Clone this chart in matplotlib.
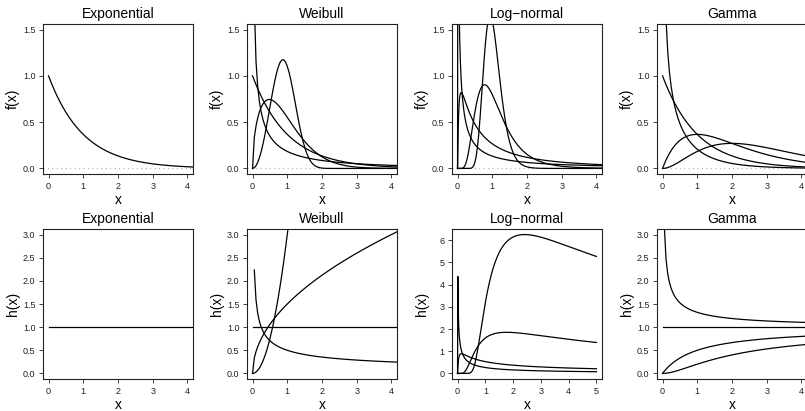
import math
import numpy as np
import matplotlib
matplotlib.use("Agg")
import matplotlib.pyplot as plt

plt.rcParams['font.family'] = ['Liberation Sans', 'DejaVu Sans']

# panel titles and y labels
titles = ['Exponential', 'Weibull', 'Log\u2212normal', 'Gamma']
row_labels = ['f(x)', 'h(x)']

# distribution parameters
exp_rate = [1.0]
weibull_shape = [0.5, 1.0, 1.5, 3.0]
weibull_scale = 1.0
lnorm_meanlog = 0.0
lnorm_sdlog = [0.25, 0.5, 1.5, 3.0]
gamma_shape = [0.5, 1.0, 2.0, 3.0]
gamma_rate = 1.0

# x grids (as in the original curve() calls)
x_coarse = np.arange(0, 101) * 0.05
x_fine = np.arange(0, 501) * 0.01

# axis limits
xlims = {'top': [(0, 4)] * 4, 'bottom': [(0, 4), (0, 4), (0, 5), (0, 4)]}
ylims = {'top': [(0, 1.5)] * 4, 'bottom': [(0, 3), (0, 3), None, (0, 3)]}
xticks = {'top': [[0, 1, 2, 3, 4]] * 4,
          'bottom': [[0, 1, 2, 3, 4], [0, 1, 2, 3, 4], [0, 1, 2, 3, 4, 5], [0, 1, 2, 3, 4]]}
yticks_half = [0.0, 0.5, 1.0, 1.5, 2.0, 2.5, 3.0]
yticks_int = [0, 1, 2, 3, 4, 5, 6]


def clean(y):
    y = np.asarray(y, dtype=float)
    y[~np.isfinite(y)] = np.nan
    return y


def exp_pdf(x, r):
    return r * np.exp(-r * x)


def exp_haz(x, r):
    return np.full_like(x, r)


def weib_pdf(x, k, lam):
    with np.errstate(divide='ignore', invalid='ignore'):
        z = x / lam
        return clean((k / lam) * z ** (k - 1) * np.exp(-z ** k))


def weib_haz(x, k, lam):
    with np.errstate(divide='ignore', invalid='ignore'):
        return clean((k / lam) * (x / lam) ** (k - 1))


def lnorm_pdf(x, mu, s):
    out = np.zeros_like(x)
    p = x > 0
    lx = np.log(x[p])
    out[p] = np.exp(-(lx - mu) ** 2 / (2 * s * s)) / (x[p] * s * math.sqrt(2 * math.pi))
    return out


def lnorm_surv(x, mu, s):
    out = np.ones_like(x)
    p = x > 0
    z = (np.log(x[p]) - mu) / (s * math.sqrt(2))
    out[p] = [0.5 * math.erfc(v) for v in z]
    return out


def lnorm_haz(x, mu, s):
    return lnorm_pdf(x, mu, s) / lnorm_surv(x, mu, s)


def gamma_pdf(x, a, b):
    with np.errstate(divide='ignore', invalid='ignore'):
        return clean(b ** a * x ** (a - 1) * np.exp(-b * x) / math.gamma(a))


def gamma_cdf(x, a, b):
    # series for the regularized lower incomplete gamma
    t = b * x
    term = np.ones_like(t)
    total = np.ones_like(t)
    for n in range(1, 250):
        term = term * t / (a + n)
        total = total + term
    return t ** a * np.exp(-t) / math.gamma(a + 1) * total


def gamma_haz(x, a, b):
    with np.errstate(divide='ignore', invalid='ignore'):
        return clean(gamma_pdf(x, a, b) / (1 - gamma_cdf(x, a, b)))


top_curves = [
    [(x_coarse, exp_pdf(x_coarse, r)) for r in exp_rate],
    [(x_coarse, weib_pdf(x_coarse, k, weibull_scale)) for k in weibull_shape],
    [(x_fine, lnorm_pdf(x_fine, lnorm_meanlog, s)) for s in lnorm_sdlog],
    [(x_coarse, gamma_pdf(x_coarse, a, gamma_rate)) for a in gamma_shape],
]
bottom_curves = [
    [(x_coarse, exp_haz(x_coarse, r)) for r in exp_rate],
    [(x_coarse, weib_haz(x_coarse, k, weibull_scale)) for k in weibull_shape],
    [(x_fine, lnorm_haz(x_fine, lnorm_meanlog, s)) for s in lnorm_sdlog],
    [(x_coarse, gamma_haz(x_coarse, a, gamma_rate)) for a in gamma_shape],
]

W, H = 805, 411
fig = plt.figure(figsize=(W / 100, H / 100), dpi=100)

lefts = [43, 247, 452, 657]
tops = {'top': 24, 'bottom': 229}
size = 150


def pad(lo, hi):
    d = (hi - lo) * 0.04
    return lo - d, hi + d


for row, curves in (('top', top_curves), ('bottom', bottom_curves)):
    for i in range(4):
        ax = fig.add_axes([lefts[i] / W, (H - tops[row] - size) / H, size / W, size / H])
        for x, y in curves[i]:
            ax.plot(x, y, color='black', lw=0.9)
        if row == 'top':
            ax.axhline(0, color='#b0b0b0', lw=0.8, ls=(0, (1, 3)), zorder=0)
        ax.set_xlim(*pad(*xlims[row][i]))
        yl = ylims[row][i]
        if yl is None:
            ymax = max(np.nanmax(y) for _, y in curves[i])
            yl = (0, ymax)
            ax.set_yticks(yticks_int)
            ax.set_yticklabels([str(v) for v in yticks_int])
        else:
            ticks = [v for v in yticks_half if v <= yl[1]]
            ax.set_yticks(ticks)
            ax.set_yticklabels(['%.1f' % v for v in ticks])
        ax.set_ylim(*pad(*yl))
        ax.set_xticks(xticks[row][i])
        ax.set_xticklabels([str(v) for v in xticks[row][i]])
        ax.tick_params(direction='out', length=3, width=0.6, labelsize=6.5,
                       pad=2.5, colors='#222222')
        for sp in ax.spines.values():
            sp.set_linewidth(0.8)
            sp.set_color('#222222')
        ax.set_title(titles[i], fontsize=10, pad=4)
        ax.text(0.5, -0.173, 'x', transform=ax.transAxes, fontsize=10,
                ha='center', va='center')
        ax.text(-0.2, 0.5, row_labels[0 if row == 'top' else 1], transform=ax.transAxes,
                fontsize=10, rotation=90, ha='center', va='center')

fig.savefig('out.png', dpi=100)
